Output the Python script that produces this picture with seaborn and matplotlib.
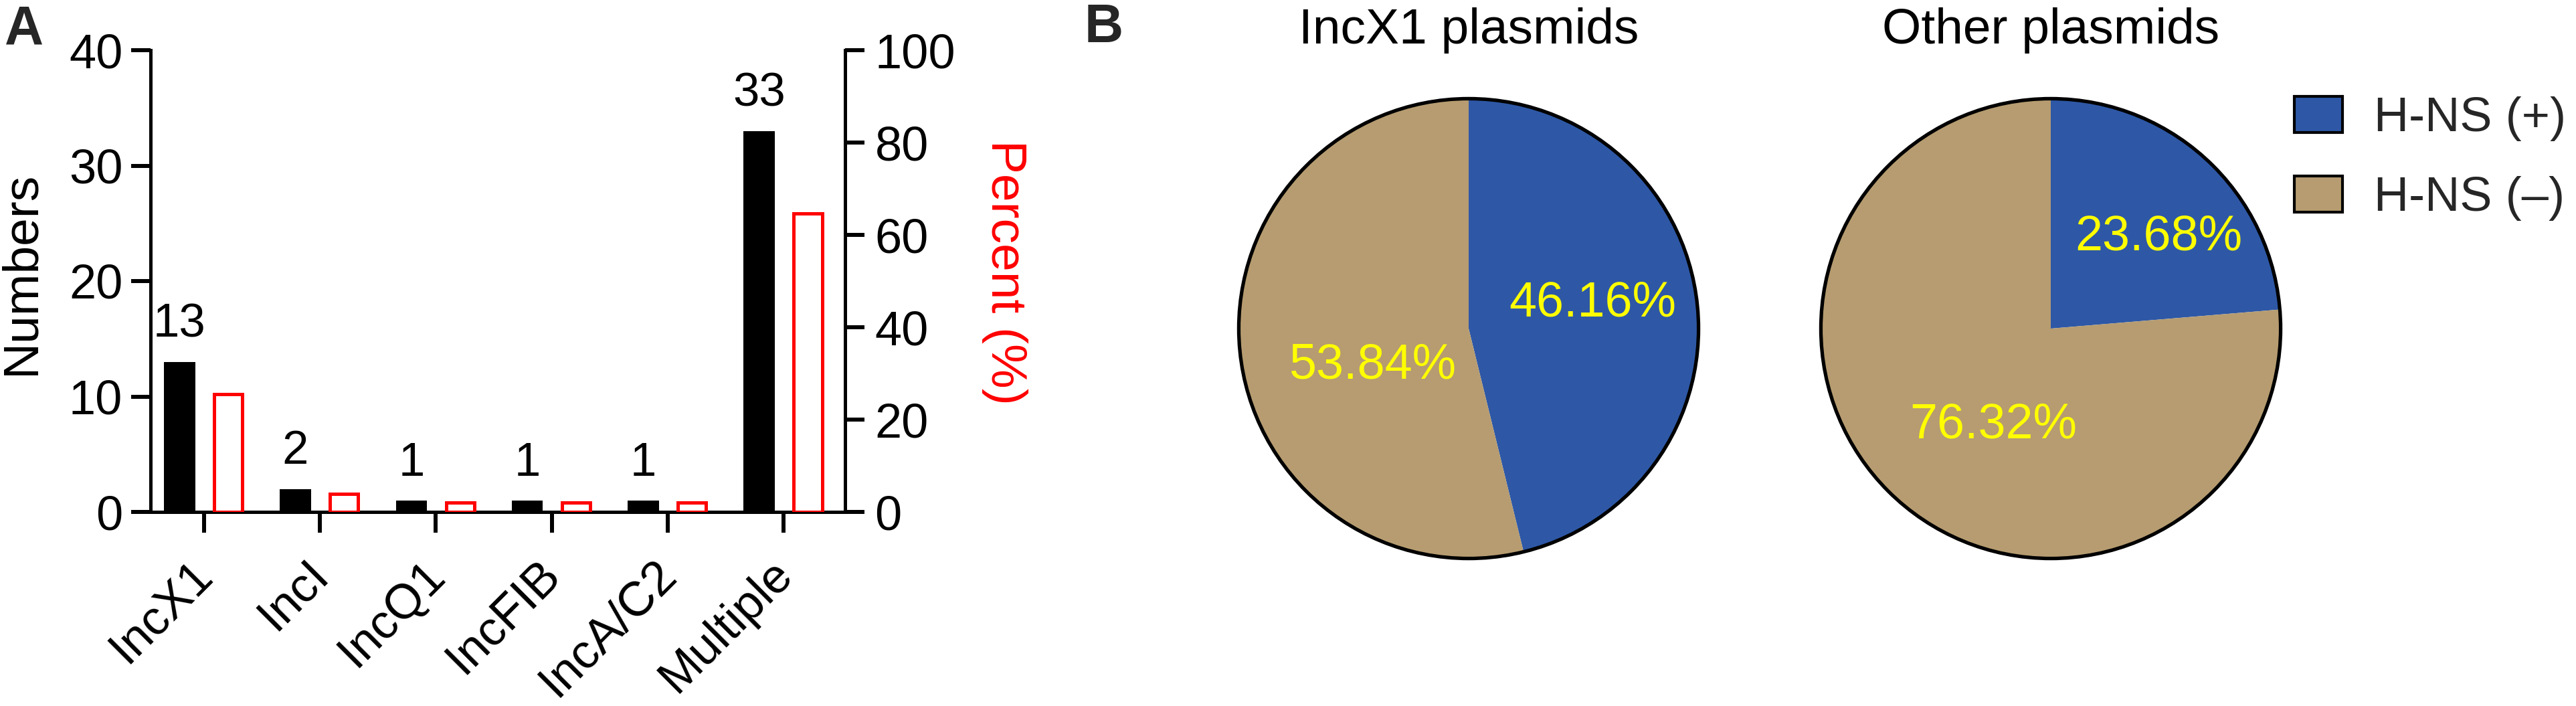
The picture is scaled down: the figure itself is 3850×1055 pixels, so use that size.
import matplotlib
matplotlib.use("Agg")
import pandas as pd
import matplotlib.pyplot as plt
from matplotlib.patches import Patch, Circle
from matplotlib.transforms import ScaledTranslation
import seaborn as sns

# Panel A data
plasmid_types = ["IncX1", "IncI", "IncQ1", "IncFIB", "IncA/C2", "Multiple"]
counts = [13, 2, 1, 1, 1, 33]
percents = [25.49, 3.92, 1.96, 1.96, 1.96, 64.71]
series = ["Numbers", "Percent"]

# Panel B data
pie_titles = ["IncX1 plasmids", "Other plasmids"]
pie_labels = ["H-NS (+)", "H-NS (\u2013)"]
incx1_share = [46.16, 53.84]
other_share = [23.68, 76.32]

# where the percentage labels sit inside each pie (in pie radii)
pct_positions = [[(0.54, 0.11), (-0.42, -0.16)],
                 [(0.47, 0.40), (-0.25, -0.42)]]

BLUE = "#2E58A6"
TAN = "#B69C70"
YELLOW = "#FFFF00"
RED = "#FF0000"

sns.set_theme(style="ticks")
plt.rcParams["font.family"] = ["Liberation Sans", "DejaVu Sans"]

W, H = 3850, 1055
fig = plt.figure(figsize=(W / 100, H / 100), dpi=100)

# ---------------- Panel A ----------------
ax = fig.add_axes([225 / W, 1 - 765 / H, (1263 - 225) / W, (765 - 75) / H])
ax2 = ax.twinx()

df_num = pd.DataFrame({"type": plasmid_types, "value": counts, "series": "Numbers"})
df_pct = pd.DataFrame({"type": plasmid_types, "value": percents, "series": "Percent"})

sns.barplot(data=df_num, x="type", y="value", hue="series", hue_order=series,
            palette={"Numbers": "black", "Percent": RED}, dodge=True,
            width=0.84, gap=0.36, errorbar=None, linewidth=0, legend=False, ax=ax)
sns.barplot(data=df_pct, x="type", y="value", hue="series", hue_order=series,
            palette={"Numbers": "black", "Percent": RED}, dodge=True, fill=False,
            width=0.84, gap=0.42, errorbar=None, linewidth=3.6, legend=False, ax=ax2)

ax.bar_label(ax.containers[0], fmt="%d", fontsize=51, padding=16, color="black")

ax.set_ylim(0, 40)
ax.set_yticks([0, 10, 20, 30, 40])
ax2.set_ylim(0, 100)
ax2.set_yticks([0, 20, 40, 60, 80, 100])
ax.set_xlim(-0.46, 5.53)

for s in ["top", "right"]:
    ax.spines[s].set_visible(False)
for s in ["top", "left", "bottom"]:
    ax2.spines[s].set_visible(False)
for a in (ax, ax2):
    for s in a.spines.values():
        s.set_linewidth(3.6)
        s.set_color("black")

ax.tick_params(axis="y", width=4.3, length=21, labelsize=52, pad=9, colors="black")
ax.tick_params(axis="x", width=4.3, length=22, labelsize=52, pad=21, colors="black")
ax2.tick_params(axis="y", width=4.3, length=21, labelsize=52, pad=11, colors="black")

ax.set_xlabel("")
ax.set_xticks(range(len(plasmid_types)))
ax.set_xticklabels(plasmid_types, rotation=45, ha="right")
shift = ScaledTranslation(0.26, 0, fig.dpi_scale_trans)
for lab in ax.get_xticklabels():
    lab.set_transform(lab.get_transform() + shift)

ax.set_ylabel("Numbers", fontsize=54, color="black")
ax.yaxis.set_label_coords((32 - 225) / 1038, 0.517)
ax.yaxis.label.set_va("center")
ax2.set_ylabel("Percent (%)", fontsize=54, color=RED, rotation=270)
ax2.yaxis.set_label_coords((1501 - 225) / 1038, 0.519)
ax2.yaxis.label.set_va("center")

fig.text(7 / W, 1 - 65 / H, "A", fontsize=58, fontweight="bold", va="baseline")

# ---------------- Panel B ----------------
pie_centers = [(2195, 491), (3065, 491)]
R = 347
for (cx, cy), title, share, pos in zip(pie_centers, pie_titles,
                                       [incx1_share, other_share], pct_positions):
    pax = fig.add_axes([(cx - R) / W, 1 - (cy + R) / H, 2 * R / W, 2 * R / H])
    wedges, texts, autotexts = pax.pie(
        share, colors=[BLUE, TAN], startangle=90, counterclock=False,
        autopct="%.2f%%", pctdistance=0.55, radius=1,
        wedgeprops=dict(linewidth=0),
        textprops=dict(color=YELLOW, fontsize=53))
    for t, p in zip(autotexts, pos):
        t.set_position(p)
    pax.add_patch(Circle((0, 0), 1, fill=False, lw=3.8, ec="black"))
    pax.set_xlim(-1.01, 1.01)
    pax.set_ylim(-1.01, 1.01)
    pax.set_aspect("equal")
    pax.axis("off")
    pax.set_title(title, fontsize=54, pad=57, color="black")

fig.text(1621 / W, 1 - 63 / H, "B", fontsize=58, fontweight="bold", va="baseline")

handles = [Patch(facecolor=BLUE, edgecolor="black", linewidth=3, label=pie_labels[0]),
           Patch(facecolor=TAN, edgecolor="black", linewidth=3, label=pie_labels[1])]
fig.legend(handles=handles, loc="upper left", bbox_to_anchor=(3429 / W, 1 - 144 / H),
           frameon=False, fontsize=52, handlelength=1.0, handleheight=0.76,
           handletextpad=0.65, labelspacing=0.72, borderpad=0, borderaxespad=0)

fig.savefig("out.png", dpi=100, facecolor="white")
